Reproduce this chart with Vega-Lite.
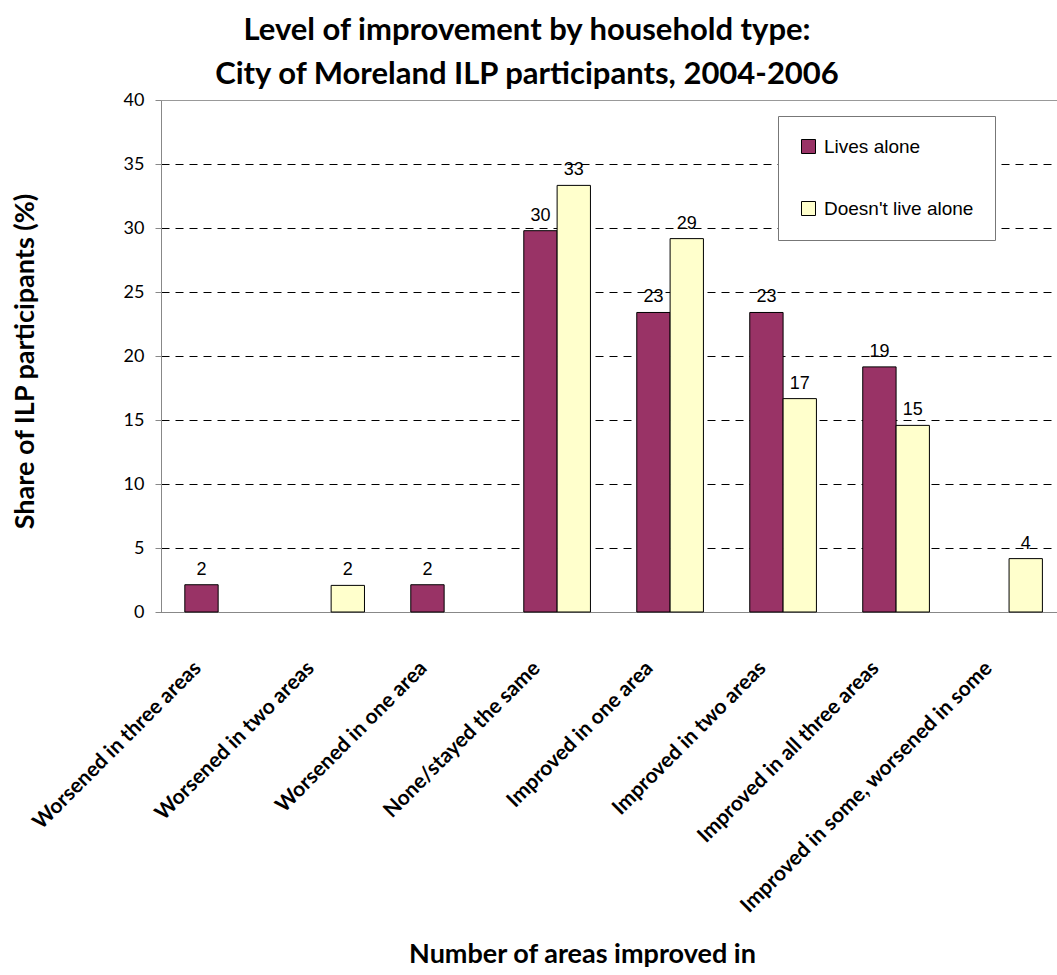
{
  "$schema": "https://vega.github.io/schema/vega-lite/v6.json",
  "autosize": {"type": "none"},
  "padding": {"left": 161, "top": 100, "right": 0, "bottom": 363},
  "width": 896,
  "height": 512,
  "background": "white",
  "title": {
    "text": ["Level of improvement by household type:", "City of Moreland ILP participants, 2004-2006"],
    "font": "Lato",
    "fontSize": 31,
    "fontWeight": "bold",
    "color": "black",
    "lineHeight": 44,
    "anchor": "middle",
    "frame": "group",
    "dx": -82,
    "offset": 0
  },
  "data": {
    "values": [
      {"category": "Worsened in three areas", "group": "Lives alone", "value": 2.13},
      {"category": "Worsened in two areas", "group": "Doesn't live alone", "value": 2.08},
      {"category": "Worsened in one area", "group": "Lives alone", "value": 2.13},
      {"category": "None/stayed the same", "group": "Lives alone", "value": 29.79},
      {"category": "None/stayed the same", "group": "Doesn't live alone", "value": 33.33},
      {"category": "Improved in one area", "group": "Lives alone", "value": 23.40},
      {"category": "Improved in one area", "group": "Doesn't live alone", "value": 29.17},
      {"category": "Improved in two areas", "group": "Lives alone", "value": 23.40},
      {"category": "Improved in two areas", "group": "Doesn't live alone", "value": 16.67},
      {"category": "Improved in all three areas", "group": "Lives alone", "value": 19.15},
      {"category": "Improved in all three areas", "group": "Doesn't live alone", "value": 14.58},
      {"category": "Improved in some, worsened in some", "group": "Doesn't live alone", "value": 4.17}
    ]
  },
  "encoding": {
    "x": {
      "field": "category",
      "type": "nominal",
      "sort": ["Worsened in three areas", "Worsened in two areas", "Worsened in one area", "None/stayed the same", "Improved in one area", "Improved in two areas", "Improved in all three areas", "Improved in some, worsened in some"],
      "scale": {
        "domain": ["Worsened in three areas", "Worsened in two areas", "Worsened in one area", "None/stayed the same", "Improved in one area", "Improved in two areas", "Improved in all three areas", "Improved in some, worsened in some"],
        "paddingInner": 0.41,
        "paddingOuter": 0.17,
        "align": 0.62
      },
      "axis": {
        "title": "Number of areas improved in",
        "titleFont": "Lato",
        "titleFontSize": 27,
        "titleFontWeight": "bold",
        "titleColor": "black",
        "titleX": 421,
        "titleY": 350,
        "titleAlign": "center",
        "titleBaseline": "alphabetic",
        "labelAngle": -45,
        "labelFont": "Lato",
        "labelFontSize": 21,
        "labelFontWeight": "bold",
        "labelColor": "black",
        "labelPadding": 45,
        "labelOffset": -28,
        "labelLimit": 500,
        "ticks": false,
        "domainColor": "#888888",
        "grid": false
      }
    },
    "xOffset": {
      "field": "group",
      "type": "nominal",
      "scale": {"domain": ["Lives alone", "Doesn't live alone"], "paddingInner": 0, "paddingOuter": 0}
    },
    "y": {
      "field": "value",
      "type": "quantitative",
      "scale": {"domain": [0, 40], "nice": false},
      "axis": {
        "title": "Share of ILP participants (%)",
        "titleFont": "Lato",
        "titleFontSize": 27,
        "titleFontWeight": "bold",
        "titleColor": "black",
        "titleX": -136,
        "titleY": 261,
        "titleAlign": "center",
        "titleBaseline": "middle",
        "titleAngle": 270,
        "values": [0, 5, 10, 15, 20, 25, 30, 35, 40],
        "labelFont": "Lato",
        "labelFontSize": 18,
        "labelColor": "black",
        "labelPadding": 11,
        "tickSize": 6,
        "tickColor": "#888888",
        "domainColor": "#888888",
        "grid": true,
        "gridColor": {"condition": {"test": "datum.value == 40", "value": "#999999"}, "value": "black"},
        "gridDash": {"condition": {"test": "datum.value == 40", "value": []}, "value": [8, 6]},
        "gridWidth": 1
      }
    }
  },
  "layer": [
    {
      "mark": {"type": "bar", "stroke": "black", "strokeWidth": 1},
      "encoding": {
        "color": {
          "field": "group",
          "type": "nominal",
          "scale": {"domain": ["Lives alone", "Doesn't live alone"], "range": ["#993366", "#FFFFCC"]},
          "legend": {
            "title": null,
            "orient": "none",
            "legendX": 617,
            "legendY": 16,
            "direction": "vertical",
            "padding": 21,
            "rowPadding": 42,
            "fillColor": "white",
            "strokeColor": "#777777",
            "symbolType": "square",
            "symbolSize": 196,
            "symbolStrokeColor": "black",
            "symbolStrokeWidth": 1,
            "labelFont": "Liberation Sans",
            "labelFontSize": 19,
            "labelColor": "black",
            "labelOffset": 6,
            "labelLimit": 300
          }
        }
      }
    },
    {
      "mark": {"type": "text", "font": "Liberation Sans", "fontSize": 18, "baseline": "bottom", "dy": -6, "color": "black"},
      "encoding": {
        "text": {"field": "value", "type": "quantitative", "format": ".0f"}
      }
    }
  ]
}
